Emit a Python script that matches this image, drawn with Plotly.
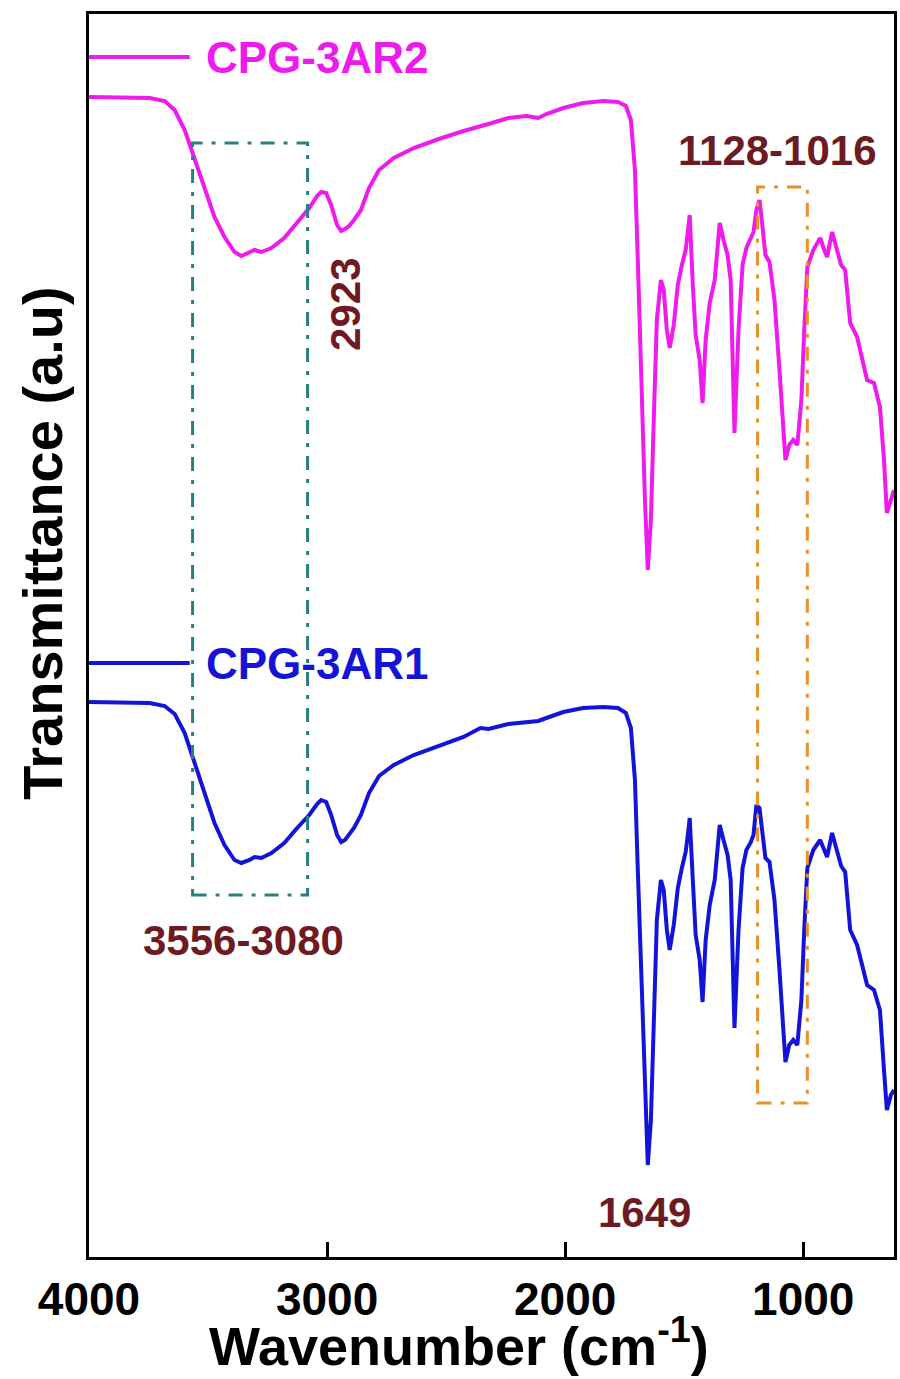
import plotly.graph_objects as go

# Wavenumber (cm-1) and transmittance (a.u.)
wn_r2 = [4000, 3870, 3745, 3682, 3640, 3598, 3556, 3515, 3473, 3431, 3389, 3360, 3326, 3305, 3276,
         3234, 3180, 3126, 3075, 3042, 3025, 3004, 2983, 2958, 2941, 2925, 2908, 2887, 2858, 2824,
         2782, 2720, 2636, 2531, 2427, 2322, 2239, 2163, 2134, 2113, 2079, 2008, 1925, 1841, 1778,
         1745, 1724, 1707, 1695, 1678, 1665, 1653, 1640, 1628, 1615, 1598, 1586, 1573, 1561, 1544,
         1527, 1510, 1494, 1485, 1477, 1464, 1452, 1435, 1423, 1410, 1393, 1372, 1351, 1335, 1318,
         1305, 1289, 1272, 1255, 1239, 1222, 1209, 1197, 1184, 1172, 1159, 1142, 1121, 1100, 1084,
         1075, 1059, 1042, 1025, 1008, 996, 983, 958, 929, 912, 900, 879, 858, 841, 824,
         803, 774, 753, 732, 703, 678, 661, 649, 632, 619]
t_r2 = [1160, 1160, 1159, 1156, 1147, 1127, 1097, 1067, 1040, 1020, 1005, 1001, 1005, 1007, 1005,
        1009, 1019, 1035, 1049, 1061, 1065, 1064, 1052, 1032, 1026, 1028, 1031, 1037, 1047, 1069,
        1087, 1099, 1109, 1118, 1126, 1133, 1139, 1141, 1140, 1139, 1143, 1149, 1154, 1156, 1155,
        1151, 1137, 1087, 997, 857, 757, 687, 737, 837, 937, 977, 967, 927, 909, 932,
        972, 992, 1007, 1025, 1042, 972, 922, 897, 854, 917, 954, 977, 1034, 1017, 1002,
        977, 824, 927, 992, 1009, 1017, 1025, 1047, 1057, 1032, 1002, 995, 957, 887, 827,
        797, 812, 817, 812, 857, 927, 990, 1007, 1019, 1007, 1000, 1025, 1007, 992, 987,
        934, 920, 897, 877, 874, 850, 797, 744, 757, 767]

wn_r1 = [4000, 3870, 3745, 3682, 3640, 3598, 3556, 3515, 3473, 3431, 3389, 3360, 3326, 3305, 3276,
         3234, 3180, 3126, 3075, 3042, 3025, 3004, 2983, 2958, 2941, 2925, 2908, 2887, 2858, 2824,
         2782, 2720, 2636, 2531, 2427, 2356, 2322, 2239, 2163, 2113, 2079, 2008, 1925, 1841, 1778,
         1745, 1724, 1707, 1695, 1678, 1665, 1653, 1640, 1628, 1615, 1598, 1586, 1573, 1561, 1544,
         1527, 1510, 1494, 1485, 1477, 1464, 1452, 1435, 1423, 1410, 1393, 1372, 1351, 1335, 1318,
         1305, 1289, 1272, 1255, 1239, 1222, 1209, 1197, 1184, 1172, 1159, 1142, 1121, 1100, 1084,
         1075, 1059, 1042, 1025, 1008, 996, 983, 958, 929, 912, 900, 879, 858, 841, 824,
         803, 774, 753, 732, 703, 678, 661, 649, 632, 619]
t_r1 = [555, 555, 554, 551, 543, 524, 494, 462, 434, 412, 397, 394, 397, 400, 399,
        404, 414, 429, 442, 453, 457, 455, 442, 422, 415, 417, 422, 429, 442, 464,
        481, 492, 502, 511, 520, 529, 528, 533, 535, 536, 539, 545, 549, 550, 549,
        544, 529, 477, 387, 257, 157, 92, 137, 237, 337, 377, 367, 327, 307, 332,
        369, 389, 405, 422, 439, 377, 322, 297, 255, 317, 352, 377, 432, 417, 402,
        377, 229, 327, 389, 407, 414, 422, 452, 449, 427, 399, 395, 357, 287, 227,
        195, 212, 217, 212, 257, 327, 389, 407, 417, 407, 400, 424, 407, 391, 385,
        327, 312, 292, 272, 267, 247, 187, 147, 162, 167]

series_names = ["CPG-3AR2", "CPG-3AR1"]
series_colors = ["#ee1aee", "#1414d8"]
label_y = [1200, 594]
legend_x = [4000, 3577]

box_oh = dict(x0=3565, x1=3082, y0=362, y1=1114)
box_co = dict(x0=1192, x1=983, y0=154, y1=1070)

peak_labels = ["2923", "3556-3080", "1128-1016", "1649"]
peak_pos = [(2925, 953), (3351, 317), (1109, 1107), (1669, 45)]

FONT = "Liberation Sans, Arial, sans-serif"
DARKRED = "#6e1a22"

fig = go.Figure()
for wn, t, name, col in [(wn_r2, t_r2, series_names[0], series_colors[0]),
                         (wn_r1, t_r1, series_names[1], series_colors[1])]:
    fig.add_trace(go.Scatter(x=wn, y=t, mode="lines", name=name,
                             line=dict(color=col, width=4), showlegend=False))

# legend-like markers
for name, col, ly in zip(series_names, series_colors, label_y):
    fig.add_shape(type="line", x0=legend_x[0], x1=legend_x[1], y0=ly, y1=ly,
                  line=dict(color=col, width=4))
    fig.add_annotation(x=3515, y=ly, text=f"<b>{name}</b>", showarrow=False,
                       xanchor="left", yanchor="middle",
                       font=dict(family=FONT, size=44, color=col))

fig.add_shape(type="rect", **box_oh, line=dict(color="#2a8080", width=3, dash="14px,9px,4px,9px"))
fig.add_shape(type="rect", **box_co, line=dict(color="#e8902a", width=3, dash="14px,9px,4px,9px"))

for txt, (px, py) in zip(peak_labels, peak_pos):
    fig.add_annotation(x=px, y=py, text=f"<b>{txt}</b>", showarrow=False,
                       textangle=-90 if txt == "2923" else 0,
                       xanchor="center", yanchor="middle",
                       font=dict(family=FONT, size=42, color=DARKRED))

fig.update_xaxes(range=[4000, 619], tickvals=[4000, 3000, 2000, 1000],
                 ticktext=["4000", "3000", "2000", "1000"],
                 ticks="inside", ticklen=15, tickwidth=3, tickcolor="black",
                 showline=True, linewidth=3, linecolor="black", mirror=True,
                 showgrid=False, zeroline=False, ticklabelstandoff=0,
                 tickfont=dict(family=FONT, size=46, color="black", weight="bold"))
fig.update_yaxes(range=[0, 1243], showticklabels=False, ticks="",
                 showline=True, linewidth=3, linecolor="black", mirror=True,
                 showgrid=False, zeroline=False)

fig.add_annotation(xref="paper", yref="paper", x=-0.058, y=0.574,
                   text="<b>Transmittance (a.u)</b>", textangle=-90, showarrow=False,
                   xanchor="center", yanchor="middle",
                   font=dict(family=FONT, size=56, color="black"))
fig.add_annotation(xref="paper", yref="paper", x=0.46, y=-0.0685,
                   text="<b>Wavenumber (cm<sup>-1</sup>)</b>", showarrow=False,
                   xanchor="center", yanchor="middle",
                   font=dict(family=FONT, size=54, color="black"))

fig.update_layout(width=900, height=1379, margin=dict(l=89, r=3, t=14, b=122),
                  plot_bgcolor="white", paper_bgcolor="white")

fig.write_html("out.html")
